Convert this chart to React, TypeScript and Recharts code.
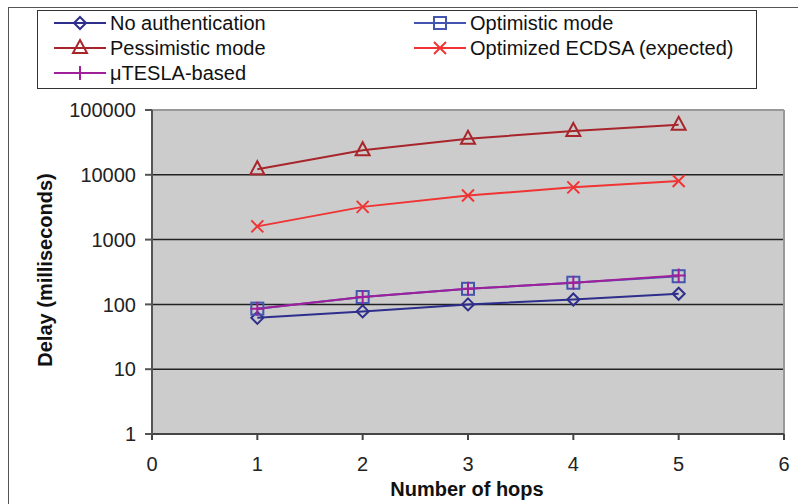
import {
  CartesianGrid,
  Line,
  LineChart,
  ReferenceLine,
  XAxis,
  YAxis,
} from 'recharts'

const hops = [1, 2, 3, 4, 5]
const noAuth = [62, 78, 100, 119, 146]
const optimistic = [86, 130, 174, 216, 272]
const pessimistic = [12200, 24000, 36000, 47500, 59000]
const ecdsa = [1600, 3200, 4800, 6400, 8000]
const tesla = [86, 130, 174, 216, 280]

const xTicks = [0, 1, 2, 3, 4, 5, 6]
const yTicks = [1, 10, 100, 1000, 10000, 100000]

const data = hops.map((hop, i) => ({
  hop,
  noAuth: noAuth[i],
  optimistic: optimistic[i],
  pessimistic: pessimistic[i],
  ecdsa: ecdsa[i],
  tesla: tesla[i],
}))

const font = '"Liberation Sans", Arial, Helvetica, sans-serif'

type Shape = 'diamond' | 'square' | 'triangle' | 'cross' | 'plus'

const series: { key: string; name: string; color: string; shape: Shape }[] = [
  { key: 'noAuth', name: 'No authentication', color: '#2e2e8c', shape: 'diamond' },
  { key: 'optimistic', name: 'Optimistic mode', color: '#4455b0', shape: 'square' },
  { key: 'pessimistic', name: 'Pessimistic mode', color: '#a8252b', shape: 'triangle' },
  { key: 'ecdsa', name: 'Optimized ECDSA (expected)', color: '#f03434', shape: 'cross' },
  { key: 'tesla', name: '\u03bcTESLA-based', color: '#a0209c', shape: 'plus' },
]

function Marker({ cx, cy, color, shape }: { cx: number; cy: number; color: string; shape: Shape }) {
  const common = { fill: 'none', stroke: color, strokeWidth: 2 }
  if (shape === 'diamond')
    return <path d={`M${cx},${cy - 6}L${cx + 6},${cy}L${cx},${cy + 6}L${cx - 6},${cy}Z`} {...common} />
  if (shape === 'square') return <rect x={cx - 6} y={cy - 6} width={12} height={12} {...common} />
  if (shape === 'triangle')
    return <path d={`M${cx},${cy - 8}L${cx + 7},${cy + 5}L${cx - 7},${cy + 5}Z`} {...common} />
  if (shape === 'cross')
    return <path d={`M${cx - 6},${cy - 6}L${cx + 6},${cy + 6}M${cx + 6},${cy - 6}L${cx - 6},${cy + 6}`} {...common} />
  return <path d={`M${cx},${cy - 7}L${cx},${cy + 7}M${cx - 7},${cy}L${cx + 7},${cy}`} {...common} />
}

// legend box slots (inside the bordered box)
const legendPos = [
  { left: 16, top: 0 },
  { left: 376, top: 0 },
  { left: 16, top: 25 },
  { left: 376, top: 25 },
  { left: 16, top: 50 },
]

function LegendBox() {
  return (
    <div
      style={{
        position: 'absolute',
        left: 37,
        top: 10,
        width: 720,
        height: 79,
        border: '1px solid #333',
        boxSizing: 'border-box',
        background: '#fff',
      }}
    >
      {series.map((s, i) => (
        <div
          key={s.key}
          style={{
            position: 'absolute',
            left: legendPos[i].left,
            top: legendPos[i].top,
            height: 24,
            display: 'flex',
            alignItems: 'center',
            fontFamily: font,
            fontSize: 20,
            color: '#111',
            whiteSpace: 'nowrap',
          }}
        >
          <svg width={52} height={24}>
            <line x1={0} y1={12} x2={52} y2={12} stroke={s.color} strokeWidth={2} />
            <Marker cx={26} cy={12} color={s.color} shape={s.shape} />
          </svg>
          <span style={{ marginLeft: 4 }}>{s.name}</span>
        </div>
      ))}
    </div>
  )
}

export default function App() {
  return (
    <div style={{ position: 'absolute', left: 0, top: 0, width: 798, height: 504, background: '#fff' }}>
      <div
        style={{
          position: 'absolute',
          left: 8,
          top: 7,
          width: 790,
          height: 497,
          borderTop: '1px solid #555',
          borderLeft: '1px solid #555',
        }}
      />
      <LineChart
        width={798}
        height={504}
        data={data}
        margin={{ top: 110, right: 14, bottom: 40, left: 72 }}
      >
        <CartesianGrid
          vertical={false}
          horizontalValues={[10, 100, 1000, 10000]}
          stroke='#222'
          strokeWidth={1.5}
          fill='#cccccc'
          fillOpacity={1}
        />
        <XAxis
          dataKey='hop'
          type='number'
          domain={[0, 6]}
          ticks={xTicks}
          stroke='#444'
          strokeWidth={2}
          tickSize={6}
          tickMargin={17}
          tick={{ fill: '#222', fontSize: 20, fontFamily: font }}
          height={30}
          label={{
            content: () => (
              <text x={467} y={496} textAnchor='middle' fontFamily={font} fontSize={20} fontWeight='bold' fill='#111'>
                Number of hops
              </text>
            ),
          }}
        />
        <YAxis
          scale='log'
          domain={[1, 100000]}
          ticks={yTicks}
          allowDataOverflow
          stroke='#555'
          strokeWidth={2}
          tickSize={7}
          tickMargin={9}
          width={80}
          tick={{ fill: '#222', fontSize: 20, fontFamily: font }}
          label={{
            content: () => (
              <text
                x={52}
                y={270}
                transform='rotate(-90 52 270)'
                textAnchor='middle'
                fontFamily={font}
                fontSize={20}
                fontWeight='bold'
                fill='#111'
              >
                Delay (milliseconds)
              </text>
            ),
          }}
        />
        <ReferenceLine y={100000} stroke='#999' strokeWidth={2} />
        <ReferenceLine x={6} stroke='#999' strokeWidth={2} />
        {series.map((s) => (
          <Line
            key={s.key}
            dataKey={s.key}
            name={s.name}
            stroke={s.color}
            strokeWidth={2}
            isAnimationActive={false}
            dot={(p: any) => (
              <Marker key={`${s.key}-${p.index}`} cx={p.cx} cy={p.cy} color={s.color} shape={s.shape} />
            )}
          />
        ))}
      </LineChart>
      <LegendBox />
    </div>
  )
}
